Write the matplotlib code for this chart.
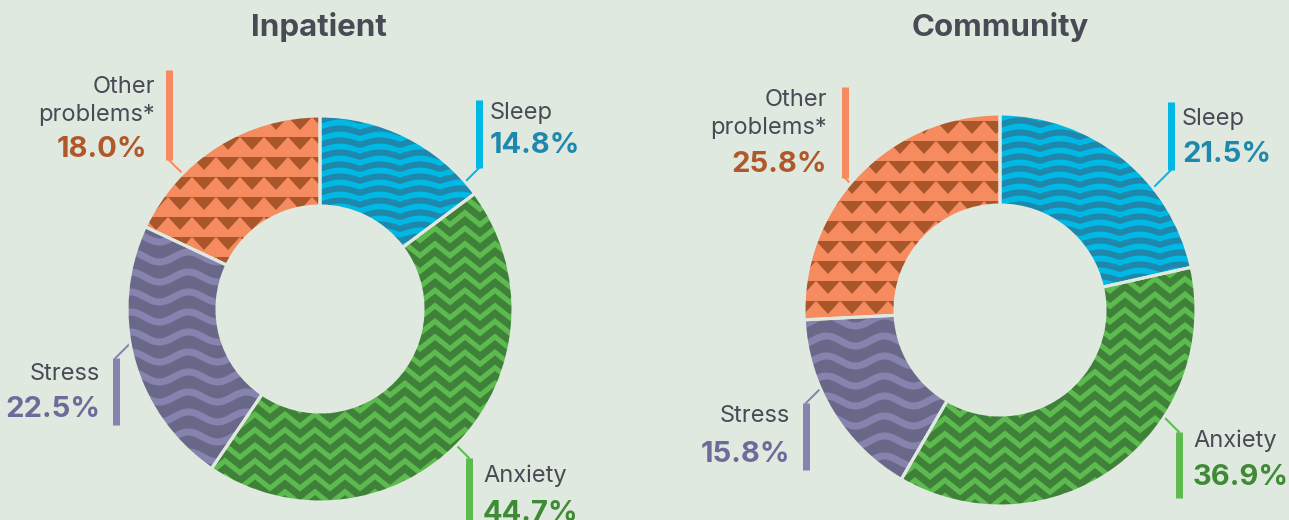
import numpy as np
import matplotlib
matplotlib.use('Agg')
import matplotlib.pyplot as plt
from matplotlib.collections import LineCollection, PolyCollection
from matplotlib.patches import Wedge

# ---------------- data ----------------
categories = ['Sleep', 'Anxiety', 'Stress', 'Other\nproblems*']
inpatient = [14.8, 44.7, 22.5, 18.0]
community = [21.5, 36.9, 15.8, 25.8]
titles = ['Inpatient', 'Community']

# ---------------- style ----------------
W, H = 1289, 520
BG = '#e0e9df'
TEXT = '#464b54'
base_colors = ['#00b8e4', '#5cba4e', '#6a6889', '#f58b5e']
pattern_colors = ['#1e87ab', '#3f8139', '#8683ae', '#a9562b']
bar_colors = ['#00b8e4', '#5cba4e', '#8683ae', '#f58b5e']
pct_colors = ['#1f88ae', '#3e8a35', '#6e6a99', '#b0582a']
patterns = ['arch', 'chevron', 'wave', 'triangle']

FONT = 'Inter'
LABEL_SIZE = 17
PCT_SIZE = 21
TITLE_SIZE = 22.5
PX = 0.72  # points per pixel at dpi 100

# layout (pixel coordinates, y downwards)
charts = [
    dict(cx=320, cy=309, R=193, r=103, title_x=319),
    dict(cx=1000, cy=310, R=196, r=105, title_x=1000),
]
# per category: bar x, bar top, bar bottom, connector end ('top'/'bottom'), dx sign,
# text x, ha, label baseline (last line), pct baseline, pct x
label_layout = [
    [  # Inpatient
        dict(bx=479, bt=100, bb=168, end='bottom', sx=-1, tx=490, ha='left', lb=119, pb=153, px=490),
        dict(bx=469, bt=458, bb=540, end='top', sx=-1, tx=483, ha='left', lb=482, pb=521, px=483),
        dict(bx=115.5, bt=358, bb=425, end='top', sx=1, tx=100, ha='right', lb=380, pb=417, px=100),
        dict(bx=169, bt=70, bb=160, end='bottom', sx=1, tx=155, ha='right', lb=121, pb=157, px=147),
    ],
    [  # Community
        dict(bx=1171, bt=102, bb=170, end='bottom', sx=-1, tx=1182, ha='left', lb=125, pb=162, px=1182),
        dict(bx=1179, bt=432, bb=498, end='top', sx=-1, tx=1193, ha='left', lb=447, pb=485, px=1193),
        dict(bx=806, bt=403, bb=470, end='top', sx=1, tx=790, ha='right', lb=422, pb=462, px=790),
        dict(bx=845, bt=87, bb=178, end='bottom', sx=1, tx=827, ha='right', lb=134, pb=172, px=827),
    ],
]
LINE_GAP = 28


def Y(py):
    return H - py


fig = plt.figure(figsize=(W / 100, H / 100), dpi=100, facecolor=BG)
ax = fig.add_axes([0, 0, 1, 1])
ax.set_facecolor(BG)


def pattern_artist(kind, x0, x1, y0, y1, color):
    xs = np.linspace(x0, x1, 800)
    if kind == 'arch':
        segs = [np.column_stack([xs, yb + 4.5 * np.abs(np.sin(np.pi * xs / 40))])
                for yb in np.arange(y0 - 10, y1 + 10, 12)]
        return LineCollection(segs, colors=color, linewidths=6 * PX)
    if kind == 'wave':
        segs = [np.column_stack([xs, yb + 5 * np.sin(2 * np.pi * xs / 58)])
                for yb in np.arange(y0 - 10, y1 + 10, 20)]
        return LineCollection(segs, colors=color, linewidths=7 * PX)
    if kind == 'chevron':
        half = 15
        xk = np.arange(np.floor(x0 / (2 * half)) * 2 * half - 2 * half, x1 + 2 * half, half)
        idx = np.round(xk / half).astype(int)
        segs = [np.column_stack([xk, yb + 12 * (idx % 2)]) for yb in np.arange(y0 - 20, y1 + 20, 15.5)]
        lc = LineCollection(segs, colors=color, linewidths=7 * PX)
        lc.set_joinstyle('miter')
        lc.set_capstyle('butt')
        return lc
    # triangles pointing down
    w, h = 24, 13
    polys = []
    for yb in np.arange(y0 - 10, y1 + 20, 20):
        for xl in np.arange(np.floor(x0 / w) * w - w, x1 + w, w):
            polys.append([(xl, yb), (xl + w, yb), (xl + w / 2, yb - h)])
    return PolyCollection(polys, facecolors=color, edgecolors='none')


def connector(P, sx, sy, C, R):
    # 45-degree line from P toward circle (centre C, radius R), pixel coords
    D = np.array(P, float) - np.array(C, float)
    d = np.array([sx, sy], float)
    b = D @ d
    disc = b * b - 2 * (D @ D - R * R)
    t = (-b - np.sqrt(max(disc, 0))) / 2
    t += 4
    return P, (P[0] + t * sx, P[1] + t * sy)


for ci, (vals, ch, lay) in enumerate(zip([inpatient, community], charts, label_layout)):
    cx, cy, R, r = ch['cx'], ch['cy'], ch['R'], ch['r']
    wedges, _ = ax.pie(vals, startangle=90, counterclock=False, colors=base_colors,
                       center=(cx, Y(cy)), radius=R,
                       wedgeprops=dict(width=R - r, linewidth=0, edgecolor='none'))
    for w in wedges:
        w.set_zorder(2)
    for i, w in enumerate(wedges):
        art = pattern_artist(patterns[i], cx - R - 5, cx + R + 5, Y(cy + R + 5), Y(cy - R - 5),
                             pattern_colors[i])
        art.set_zorder(3)
        ax.add_collection(art)
        art.set_clip_path(w)
        # separating edge
        ax.add_patch(Wedge((cx, Y(cy)), R, w.theta1, w.theta2, width=R - r,
                           facecolor='none', edgecolor=BG, linewidth=2.2, zorder=4))

    ax.text(ch['title_x'], Y(36), titles[ci], ha='center', va='baseline',
            fontsize=TITLE_SIZE, fontweight='bold', color=TEXT, family=FONT)

    for i, L in enumerate(lay):
        # vertical bar
        ax.plot([L['bx'], L['bx']], [Y(L['bt']), Y(L['bb'])], color=bar_colors[i],
                lw=7 * PX, solid_capstyle='butt', zorder=1)
        if L['end'] == 'top':
            P, sy = (L['bx'], L['bt']), -1
        else:
            P, sy = (L['bx'], L['bb']), 1
        p0, p1 = connector(P, L['sx'], sy, (cx, cy), R)
        ax.plot([p0[0], p1[0]], [Y(p0[1]), Y(p1[1])], color=bar_colors[i],
                lw=2 * PX, zorder=1)
        lines = categories[i].split('\n')
        for k, line in enumerate(reversed(lines)):
            ax.text(L['tx'], Y(L['lb'] - k * LINE_GAP), line, ha=L['ha'], va='baseline',
                    fontsize=LABEL_SIZE, color=TEXT, family=FONT)
        ax.text(L['px'], Y(L['pb']), f'{vals[i]:.1f}%', ha=L['ha'], va='baseline',
                fontsize=PCT_SIZE, fontweight='bold', color=pct_colors[i], family=FONT)

ax.set_xlim(0, W)
ax.set_ylim(0, H)
ax.set_aspect('auto')
ax.axis('off')
fig.savefig('out.png', dpi=100, facecolor=BG)
